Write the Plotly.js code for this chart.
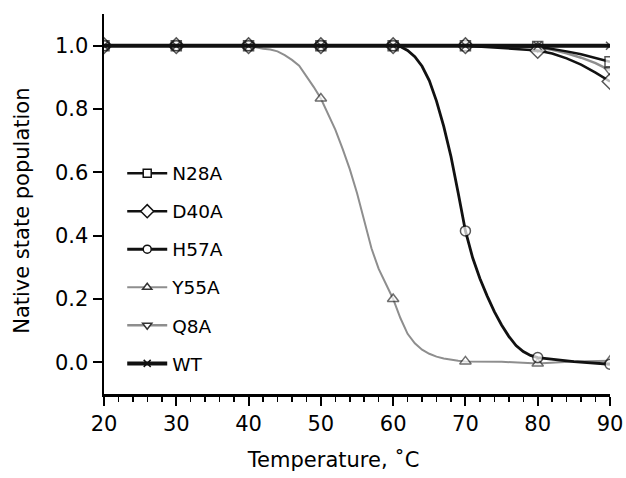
<!DOCTYPE html>
<html>
<head>
<meta charset="utf-8">
<script src="https://cdn.plot.ly/plotly-3.0.1.min.js"></script>
<style>html,body{margin:0;padding:0;background:#fff}#chart{width:626px;height:478px}</style>
</head>
<body>
<div id="chart"></div>
<script>
// ---- data ----
var seriesNames = ["N28A", "D40A", "H57A", "Y55A", "Q8A", "WT"];

var tempsFlat = [20, 30, 40, 50, 60, 70, 80, 82, 84, 86, 88, 90];
var n28a = [1.0, 1.0, 1.0, 1.0, 1.0, 1.0, 0.997, 0.99, 0.982, 0.973, 0.962, 0.949];
var d40a = [1.0, 1.0, 1.0, 1.0, 1.0, 1.0, 0.985, 0.975, 0.96, 0.94, 0.915, 0.887];
var q8a  = [1.0, 1.0, 1.0, 1.0, 1.0, 1.0, 0.995, 0.987, 0.976, 0.962, 0.945, 0.922];
var wt   = [1.0, 1.0, 1.0, 1.0, 1.0, 1.0, 1.0, 1.0, 1.0, 1.0, 1.0, 1.0];

var tempsH57A = [20, 30, 40, 50, 60, 61, 62, 63, 64, 65, 66, 67, 68, 69, 70, 71, 72, 73, 74, 75, 76, 77, 78, 79, 80, 85, 90];
var h57a = [1.0, 1.0, 1.0, 1.0, 1.0, 0.997, 0.985, 0.965, 0.935, 0.89, 0.825, 0.745, 0.65, 0.535, 0.415, 0.33, 0.265, 0.21, 0.16, 0.118, 0.082, 0.053, 0.034, 0.022, 0.015, 0.002, -0.006];

var tempsY55A = [20, 30, 40, 41, 42, 43, 44, 45, 46, 47, 48, 49, 50, 51, 52, 53, 54, 55, 56, 57, 58, 59, 60, 61, 62, 63, 64, 65, 66, 67, 68, 69, 70, 75, 80, 85, 90];
var y55a = [1.0, 1.0, 1.0, 0.995, 0.99, 0.988, 0.982, 0.97, 0.955, 0.937, 0.905, 0.87, 0.833, 0.785, 0.735, 0.675, 0.61, 0.535, 0.445, 0.36, 0.295, 0.245, 0.2, 0.14, 0.09, 0.06, 0.04, 0.027, 0.018, 0.012, 0.008, 0.005, 0.003, 0.002, -0.004, 0.003, 0.005];

var xTicks = [20, 30, 40, 50, 60, 70, 80, 90];
var xTitle = "Temperature, ˚C";
var yTitle = "Native state population";

// ---- styles ----
var BLACK = "#111111", GRAY = "#8e8e8e";
var FONT = "DejaVu Sans, Liberation Sans, Arial, sans-serif";
// invisible trailing padding (kept from trim by a zero-width space) to offset the centred titles
function pad(n) { return "\u00a0".repeat(n) + "\u200b"; }

function sizes(xs, s) { return xs.map(function (x) { return x % 10 === 0 ? s : 0; }); }

var defs = [
  {name: "N28A", x: tempsFlat, y: n28a, color: BLACK, width: 2.5, sym: "square", mline: BLACK, ms: 10, lms: 8, fill: "#fff"},
  {name: "D40A", x: tempsFlat, y: d40a, color: BLACK, width: 2.5, sym: "diamond", mline: BLACK, ms: 12, lms: 10, fill: "#fff"},
  {name: "H57A", x: tempsH57A, y: h57a, color: BLACK, width: 2.8, sym: "circle", mline: BLACK, ms: 10, lms: 8, fill: "#fff"},
  {name: "Y55A", x: tempsY55A, y: y55a, color: GRAY, width: 2, sym: "triangle-up", mline: "#333", ms: 10, lms: 8, fill: "#fff"},
  {name: "Q8A", x: tempsFlat, y: q8a, color: GRAY, width: 2.5, sym: "triangle-down", mline: "#333", ms: 10, lms: 8, fill: "#fff"},
  {name: "WT", x: tempsFlat, y: wt, color: BLACK, width: 4, sym: "x-thin", mline: BLACK, ms: 8, lms: 7, fill: BLACK}
];

var drawOrder = [4, 3, 0, 1, 2, 5];
var traces = [];
drawOrder.forEach(function (i) {
  var d = defs[i];
  traces.push({
    type: "scatter", mode: "lines+markers", name: d.name, x: d.x, y: d.y,
    showlegend: false, legendgroup: d.name, hoverinfo: "x+y+name",
    line: {color: d.color, width: d.width},
    marker: {symbol: d.sym, size: sizes(d.x, d.ms), color: d.fill, line: {color: d.mline, width: 1.5}}
  });
});
defs.forEach(function (d) {
  traces.push({
    type: "scatter", mode: "lines+markers", name: d.name, x: [null], y: [null],
    legendgroup: d.name, showlegend: true,
    line: {color: d.color, width: d.width},
    marker: {symbol: d.sym, size: d.lms, color: d.fill, line: {color: d.mline, width: 1.5}}
  });
});

var layout = {
  width: 626, height: 478,
  margin: {l: 104, r: 16, t: 14, b: 84},
  paper_bgcolor: "#fff", plot_bgcolor: "#fff",
  font: {family: FONT, size: 21, color: "#000"},
  showlegend: true,
  legend: {
    x: 0.036, y: 0.63, xanchor: "left", yanchor: "top",
    bgcolor: "rgba(0,0,0,0)", borderwidth: 0,
    font: {family: FONT, size: 18.5, color: "#000"},
    tracegroupgap: 11, itemwidth: 40
  },
  xaxis: {
    range: [20, 90], tickvals: xTicks, ticktext: xTicks.map(String),
    ticks: "outside", ticklen: 9, tickwidth: 2, tickcolor: "#000",
    showline: true, linewidth: 2.5, linecolor: "#000",
    showgrid: false, zeroline: false,
    minor: {dtick: 2, tick0: 20, ticks: "outside", ticklen: 5, tickwidth: 1.5, tickcolor: "#000", showgrid: false},
    tickfont: {family: FONT, size: 21},
    title: {text: xTitle + pad(7), font: {family: FONT, size: 21}, standoff: 18}
  },
  yaxis: {
    range: [-0.1, 1.1], tick0: 0, dtick: 0.2, tickformat: ".1f",
    ticks: "outside", ticklen: 9, tickwidth: 2, tickcolor: "#000",
    showline: true, linewidth: 2.5, linecolor: "#000",
    showgrid: false, zeroline: false,
    tickfont: {family: FONT, size: 21},
    title: {text: yTitle + pad(2), font: {family: FONT, size: 21}, standoff: 20}
  }
};

Plotly.newPlot("chart", traces, layout, {displayModeBar: false, staticPlot: true});
</script>
</body>
</html>
